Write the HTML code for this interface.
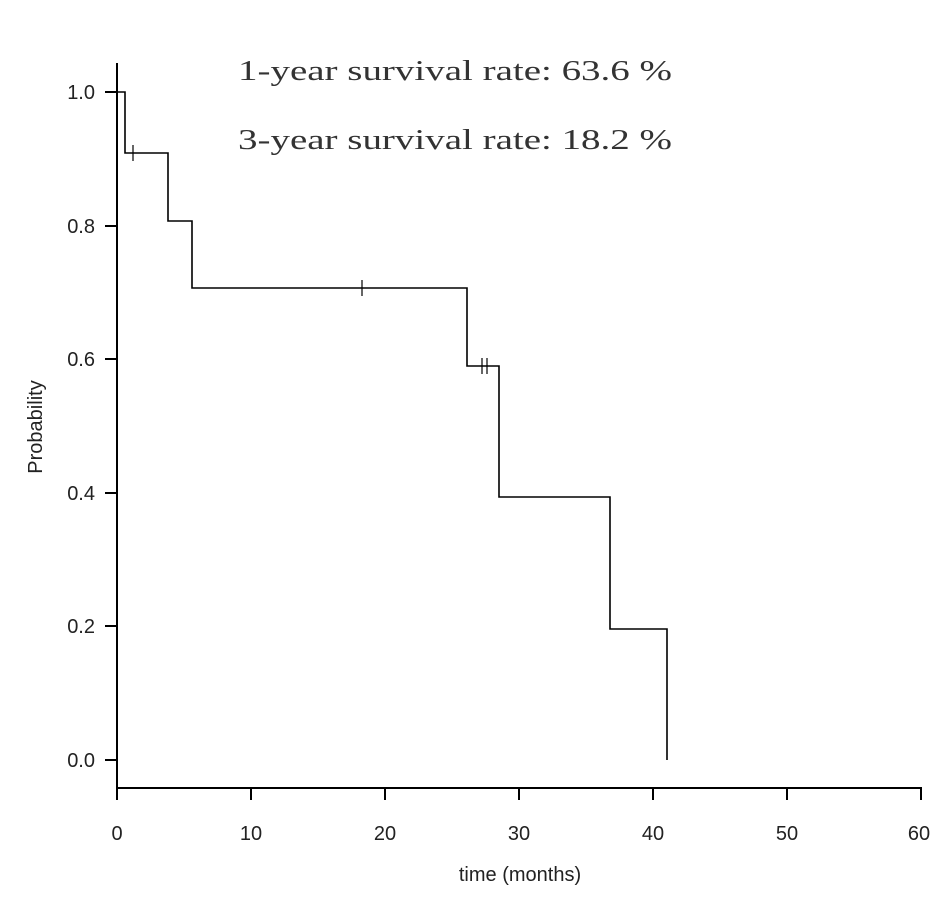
<!DOCTYPE html>
<html><head><style>body{margin:0;background:#fff}svg{display:block}</style></head><body>
<svg width="945" height="910" xmlns="http://www.w3.org/2000/svg">
<g stroke="#000" stroke-width="2" fill="none">
<line x1="117" y1="63" x2="117" y2="789"/>
<line x1="117" y1="788" x2="922" y2="788"/>
<line x1="105" y1="92" x2="117" y2="92"/>
<line x1="105" y1="226" x2="117" y2="226"/>
<line x1="105" y1="359" x2="117" y2="359"/>
<line x1="105" y1="493" x2="117" y2="493"/>
<line x1="105" y1="626" x2="117" y2="626"/>
<line x1="105" y1="760" x2="117" y2="760"/>
<line x1="117" y1="788" x2="117" y2="800"/>
<line x1="251" y1="788" x2="251" y2="800"/>
<line x1="385" y1="788" x2="385" y2="800"/>
<line x1="519" y1="788" x2="519" y2="800"/>
<line x1="653" y1="788" x2="653" y2="800"/>
<line x1="787" y1="788" x2="787" y2="800"/>
<line x1="921" y1="788" x2="921" y2="800"/>
</g>
<path d="M117 92 H125 V153 H168 V221 H192 V288 H467 V366 H499 V497 H610 V629 H667 V760" stroke="#000" stroke-width="1.6" fill="none"/>
<g stroke="#000" stroke-width="1.2">
<line x1="133" y1="145" x2="133" y2="161"/>
<line x1="362" y1="280" x2="362" y2="296"/>
<line x1="482" y1="358" x2="482" y2="374"/>
<line x1="487" y1="358" x2="487" y2="374"/>
</g>
<g font-family="Liberation Sans, sans-serif" font-size="20" fill="#222">
<g text-anchor="end">
<text x="95" y="99">1.0</text><text x="95" y="233">0.8</text><text x="95" y="366">0.6</text>
<text x="95" y="500">0.4</text><text x="95" y="633">0.2</text><text x="95" y="767">0.0</text>
</g>
<g text-anchor="middle">
<text x="117" y="840">0</text><text x="251" y="840">10</text><text x="385" y="840">20</text>
<text x="519" y="840">30</text><text x="653" y="840">40</text><text x="787" y="840">50</text><text x="919" y="840">60</text>
<text x="520" y="881">time (months)</text>
<text transform="translate(42,427) rotate(-90)">Probability</text>
</g>
</g>
<g font-family="Liberation Serif, serif" font-size="29" fill="#333">
<text x="238" y="80" textLength="434" lengthAdjust="spacingAndGlyphs">1-year survival rate: 63.6 %</text>
<text x="238" y="149" textLength="434" lengthAdjust="spacingAndGlyphs">3-year survival rate: 18.2 %</text>
</g>
</svg>
</body></html>
